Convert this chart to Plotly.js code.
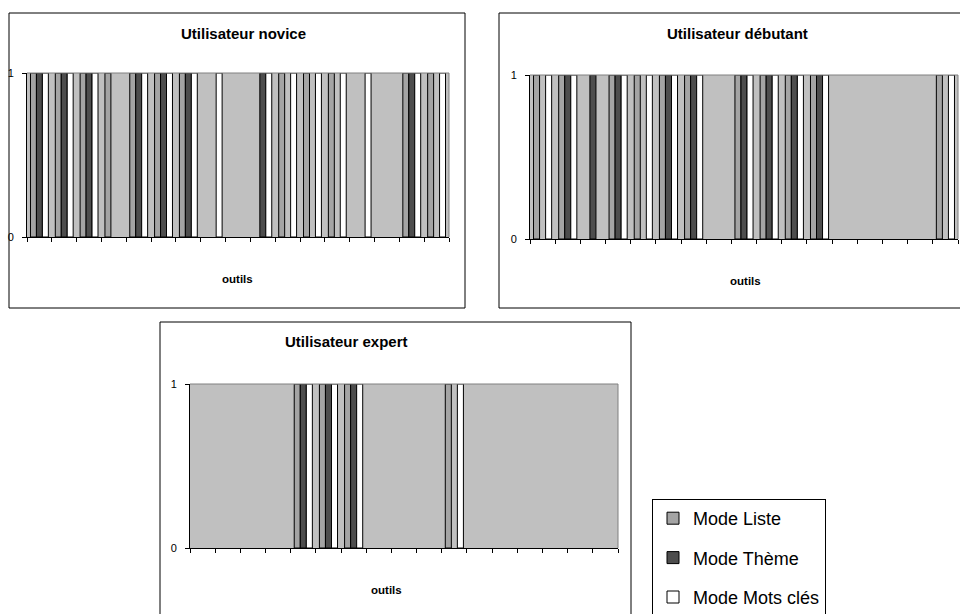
<!DOCTYPE html>
<html>
<head>
<meta charset="utf-8">
<script src="https://cdn.plot.ly/plotly-3.0.1.min.js"></script>
<style>
html,body{margin:0;padding:0;background:#ffffff;}
#chart{width:960px;height:614px;}
</style>
</head>
<body>
<div id="chart"></div>
<script>
// ---- data ----
const outils = ['outil 1','outil 2','outil 3','outil 4','outil 5','outil 6','outil 7','outil 8','outil 9',
                'outil 10','outil 11','outil 12','outil 13','outil 14','outil 15','outil 16','outil 17'];
const seriesNames = ['Mode Liste', 'Mode Thème', 'Mode Mots clés'];
const panelTitles = ['Utilisateur novice', 'Utilisateur débutant', 'Utilisateur expert'];
const axisTitle = 'outils';

const noviceListe    = [1,1,1,1,1,1,1,0,0,0,1,1,1,0,0,1,1];
const noviceTheme    = [1,1,1,0,1,1,1,0,0,1,0,0,0,0,0,1,0];
const noviceMots     = [1,1,1,0,1,1,1,1,0,1,1,1,1,1,0,1,1];

const debutantListe  = [1,1,0,1,1,1,1,0,1,1,1,1,0,0,0,0,1];
const debutantTheme  = [0,1,1,1,0,1,1,0,1,1,1,1,0,0,0,0,0];
const debutantMots   = [1,1,0,1,1,1,1,0,1,1,1,1,0,0,0,0,1];

const expertListe    = [0,0,0,0,1,1,1,0,0,0,1,0,0,0,0,0,0];
const expertTheme    = [0,0,0,0,1,1,1,0,0,0,0,0,0,0,0,0,0];
const expertMots     = [0,0,0,0,1,1,1,0,0,0,1,0,0,0,0,0,0];

// ---- styling ----
const W = 960, H = 614;
const FONT = 'Liberation Sans, Arial, sans-serif';
const LEGFONT = 'Liberation Sans Narrow, Arial Narrow, Liberation Sans, Arial, sans-serif';
const colors = ['#a4a4a4', '#4d4d4d', '#ffffff'];
const px = v => v / W;
const py = v => 1 - v / H;

const panels = [
  {series: [noviceListe, noviceTheme, noviceMots],       ax: '',  plot: [27, 449, 73, 237],  box: [9, 465, 13, 308],   title: [243, 33],  xt: [237, 279]},
  {series: [debutantListe, debutantTheme, debutantMots], ax: '2', plot: [530, 958, 75, 239], box: [499, 975, 13, 308],  title: [737, 33],  xt: [745, 281]},
  {series: [expertListe, expertTheme, expertMots],       ax: '3', plot: [190, 618, 384, 548], box: [160, 631, 322, 625], title: [346, 341], xt: [386, 590]}
];

const traces = [];
const layout = {
  width: W, height: H,
  margin: {l: 0, r: 0, t: 0, b: 0, autoexpand: false},
  paper_bgcolor: '#ffffff',
  plot_bgcolor: '#c0c0c0',
  barmode: 'group',
  bargap: 0.28,
  bargroupgap: 0,
  showlegend: true,
  font: {family: FONT, color: '#000000'},
  legend: {
    x: px(652), y: py(499), xanchor: 'left', yanchor: 'top',
    bgcolor: '#ffffff', bordercolor: '#000000', borderwidth: 1,
    font: {family: LEGFONT, size: 18, color: '#000000'},
    traceorder: 'grouped', tracegroupgap: 13
  },
  shapes: [],
  annotations: []
};

panels.forEach((p, pi) => {
  p.series.forEach((vals, si) => {
    traces.push({
      type: 'bar',
      name: seriesNames[si],
      x: outils,
      // a zero means "no bar" for this tool
      y: vals.map(v => (v === 0 ? null : v)),
      xaxis: 'x' + p.ax,
      yaxis: 'y' + p.ax,
      legendgroup: 'g' + si,
      showlegend: pi === 0,
      marker: {color: colors[si], line: {color: '#000000', width: 1}},
      hoverinfo: 'skip'
    });
  });
  layout['xaxis' + p.ax] = {
    domain: [px(p.plot[0]), px(p.plot[1])],
    anchor: 'y' + p.ax,
    type: 'category',
    range: [-0.5, outils.length - 0.5],
    tickson: 'boundaries',
    ticks: 'outside', ticklen: 4, tickwidth: 1, tickcolor: '#000000',
    showticklabels: false,
    showline: true, linecolor: '#000000', linewidth: 1,
    showgrid: false, zeroline: false, fixedrange: true
  };
  layout['yaxis' + p.ax] = {
    domain: [py(p.plot[3]), py(p.plot[2])],
    anchor: 'x' + p.ax,
    range: [0, 1],
    tickvals: [0, 1], ticktext: ['0', '1'],
    ticks: 'outside', ticklen: 4, tickwidth: 1, tickcolor: '#000000',
    ticklabelstandoff: 6,
    tickfont: {family: FONT, size: 11, color: '#000000'},
    showline: true, linecolor: '#000000', linewidth: 1,
    showgrid: false, zeroline: false, fixedrange: true
  };
  // plot-area border (top and right, grey)
  layout.shapes.push({type: 'line', xref: 'paper', yref: 'paper', layer: 'above',
    x0: px(p.plot[0]), x1: px(p.plot[1]), y0: py(p.plot[2]), y1: py(p.plot[2]),
    line: {color: '#808080', width: 1}});
  layout.shapes.push({type: 'line', xref: 'paper', yref: 'paper', layer: 'above',
    x0: px(p.plot[1]), x1: px(p.plot[1]), y0: py(p.plot[2]), y1: py(p.plot[3]),
    line: {color: '#808080', width: 1}});
  // chart box
  layout.shapes.push({type: 'rect', xref: 'paper', yref: 'paper', layer: 'below',
    x0: px(p.box[0]), x1: px(p.box[1]), y0: py(p.box[3]), y1: py(p.box[2]),
    line: {color: '#000000', width: 1}, fillcolor: 'rgba(0,0,0,0)'});
  layout.annotations.push({text: '<b>' + panelTitles[pi] + '</b>', xref: 'paper', yref: 'paper',
    x: px(p.title[0]), y: py(p.title[1]), xanchor: 'center', yanchor: 'middle', showarrow: false,
    font: {family: FONT, size: 15, color: '#000000'}});
  layout.annotations.push({text: '<b>' + axisTitle + '</b>', xref: 'paper', yref: 'paper',
    x: px(p.xt[0]), y: py(p.xt[1]), xanchor: 'center', yanchor: 'middle', showarrow: false,
    font: {family: FONT, size: 11.5, color: '#000000'}});
});

Plotly.newPlot('chart', traces, layout, {staticPlot: true, displayModeBar: false});
</script>
</body>
</html>
